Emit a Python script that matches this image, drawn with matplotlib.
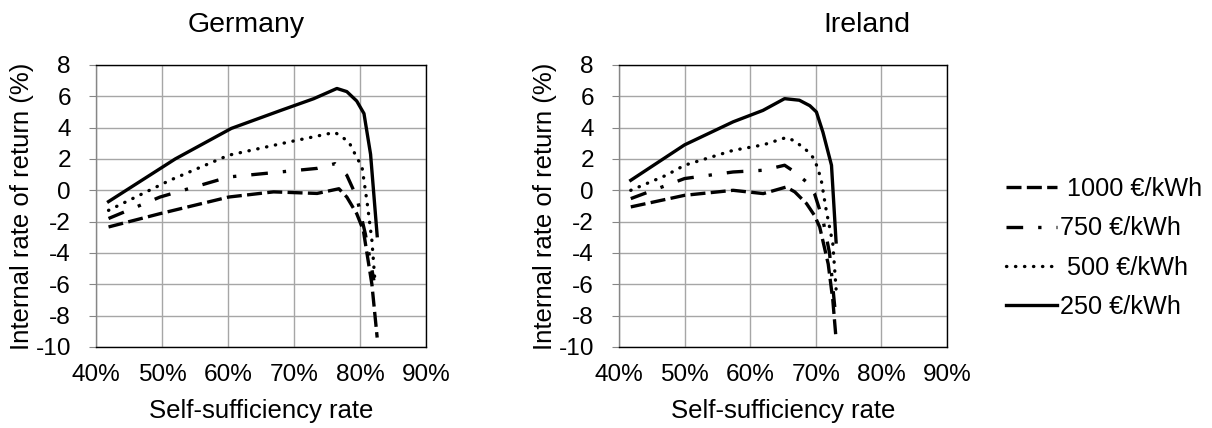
import matplotlib
matplotlib.use("Agg")
import matplotlib.pyplot as plt
from matplotlib.ticker import FuncFormatter

plt.rcParams['font.family'] = ['Liberation Sans', 'DejaVu Sans']
plt.rcParams['axes.unicode_minus'] = False

series_labels = [' 1000 €/kWh', '750 €/kWh', ' 500 €/kWh', '250 €/kWh']

# Germany (self-sufficiency %, IRR %)
de_x_1000 = [41.9, 49.7, 60.1, 66.9, 73.5, 76.8, 78.0, 79.5, 80.5, 81.8, 82.6]
de_y_1000 = [-2.34, -1.49, -0.43, -0.1, -0.2, 0.1, -0.43, -1.49, -2.55, -6.0, -9.4]
de_x_750 = [41.9, 49.7, 60.1, 73.5, 76.2, 78.0, 79.5, 80.8, 82.1]
de_y_750 = [-1.8, -0.43, 0.85, 1.4, 1.7, 0.96, -0.43, -2.77, -5.75]
de_x_500 = [41.9, 51.2, 60.1, 69.4, 76.2, 78.3, 79.5, 80.3, 81.1, 81.8, 82.3]
de_y_500 = [-1.28, 0.64, 2.24, 3.1, 3.7, 3.1, 2.1, 1.5, -0.85, -3.2, -6.0]
de_x_250 = [41.9, 52.0, 60.5, 68.0, 73.0, 76.5, 78.0, 79.5, 80.6, 81.6, 82.6]
de_y_250 = [-0.72, 2.0, 3.95, 5.1, 5.85, 6.5, 6.3, 5.7, 4.9, 2.3, -2.9]

# Ireland
ie_x_1000 = [41.8, 50.0, 57.4, 62.0, 65.5, 66.8, 68.6, 69.8, 70.6, 71.9, 72.6, 73.1]
ie_y_1000 = [-1.06, -0.32, 0.0, -0.21, 0.21, -0.1, -0.85, -1.6, -2.34, -4.7, -7.0, -9.5]
ie_x_750 = [41.8, 50.0, 57.4, 62.0, 65.25, 66.8, 68.6, 69.8, 71.1, 72.1, 72.9]
ie_y_750 = [-0.53, 0.75, 1.17, 1.28, 1.6, 1.17, 0.53, -0.2, -1.9, -4.0, -7.45]
ie_x_500 = [41.8, 47.2, 50.0, 57.4, 62.0, 65.5, 66.8, 68.6, 69.8, 70.8, 71.6, 72.6, 73.1]
ie_y_500 = [0.0, 0.96, 1.6, 2.55, 2.9, 3.37, 3.15, 2.55, 2.0, 0.75, -1.28, -3.4, -6.3]
ie_x_250 = [41.8, 50.0, 57.4, 61.95, 65.25, 67.5, 69.1, 70.1, 71.1, 72.4, 73.1]
ie_y_250 = [0.64, 2.9, 4.37, 5.1, 5.85, 5.75, 5.4, 5.0, 3.7, 1.6, -3.3]

x_ticks = [40, 50, 60, 70, 80, 90]
y_ticks = [8, 6, 4, 2, 0, -2, -4, -6, -8, -10]

styles = [
    dict(linestyle=(0, (4.5, 1.6)), dash_capstyle='butt'),
    dict(linestyle=(0, (5, 4.5, 1, 4.5)), dash_capstyle='butt'),
    dict(linestyle=(0, (0.1, 2.6)), dash_capstyle='round'),
    dict(linestyle='-'),
]

fig = plt.figure(figsize=(12.12, 4.28), dpi=100)
ax_de = fig.add_axes([0.0792, 0.1893, 0.2723, 0.6589])
ax_ie = fig.add_axes([0.5107, 0.1893, 0.2706, 0.6589])

data = {
    'de': [(de_x_1000, de_y_1000), (de_x_750, de_y_750), (de_x_500, de_y_500), (de_x_250, de_y_250)],
    'ie': [(ie_x_1000, ie_y_1000), (ie_x_750, ie_y_750), (ie_x_500, ie_y_500), (ie_x_250, ie_y_250)],
}

handles = []
for ax, key in [(ax_de, 'de'), (ax_ie, 'ie')]:
    for (xs, ys), st, lab in zip(data[key], styles, series_labels):
        ln, = ax.plot(xs, ys, color='black', lw=2.4, label=lab, **st)
        if key == 'de':
            handles.append(ln)
    ax.set_xlim(40, 90)
    ax.set_ylim(-10, 8)
    ax.set_xticks(x_ticks)
    ax.set_yticks(y_ticks)
    ax.xaxis.set_major_formatter(FuncFormatter(lambda v, p: '%d%%' % v))
    ax.grid(True, color='#a6a6a6', lw=1.0)
    ax.set_axisbelow(True)
    for s in ax.spines.values():
        s.set_color('black')
        s.set_linewidth(1.0)
    ax.spines['left'].set_color('#868686')
    ax.tick_params(axis='x', length=0, labelsize=17.6, pad=12.5)
    ax.tick_params(axis='y', length=5, color='#868686', labelsize=17.6, pad=13)
    ax.set_xlabel('Self-sufficiency rate', fontsize=18.5, labelpad=9)
    ax.set_ylabel('Internal rate of return (%)', fontsize=18.5, labelpad=1)

fig.text(246.5 / 1212, 1 - 25 / 428, 'Germany', fontsize=20.5, ha='center', va='center')
fig.text(867 / 1212, 1 - 25 / 428, 'Ireland', fontsize=20.5, ha='center', va='center')

fig.legend(handles=handles, loc='center left', bbox_to_anchor=(1006 / 1212, 1 - 248 / 428),
           frameon=False, fontsize=18.2, handlelength=2.0, handletextpad=0.12,
           labelspacing=0.6, borderaxespad=0, borderpad=0)

fig.savefig('out.png', dpi=100)
